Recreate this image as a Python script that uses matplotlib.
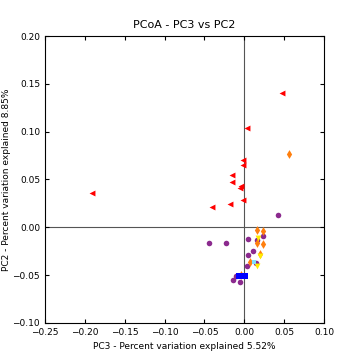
import matplotlib
matplotlib.use("Agg")
import matplotlib.pyplot as plt

# PC3 (x) / PC2 (y) coordinates per group
red_x = [0.0477, 0.0038, -0.001, -0.001, -0.016, -0.016, -0.006, -0.004, -0.001, -0.018, -0.041, -0.191]
red_y = [0.140, 0.1034, 0.070, 0.065, 0.055, 0.047, 0.041, 0.043, 0.029, 0.024, 0.021, 0.036]

orange_x = [0.056, 0.016, 0.023, 0.016, 0.023, 0.020, 0.0075, -0.004]
orange_y = [0.077, -0.003, -0.004, -0.016, -0.018, -0.028, -0.036, -0.050]

purple_x = [0.042, -0.044, -0.023, 0.005, 0.024, 0.016, 0.011, 0.005, 0.015, 0.004, -0.011, -0.014, -0.006]
purple_y = [0.013, -0.016, -0.016, -0.012, -0.009, -0.013, -0.025, -0.029, -0.037, -0.041, -0.051, -0.055, -0.057]

yellow_x = [0.017, 0.020, 0.016]
yellow_y = [-0.011, -0.030, -0.041]

cyan_x = [0.0125]
cyan_y = [-0.036]

blue_x = [-0.0065, 0.0015]
blue_y = [-0.051, -0.051]

fig = plt.figure(figsize=(3.6, 3.6), dpi=100)
ax = fig.add_axes([0.125, 0.103, 0.775, 0.797])

ax.axhline(0, color="#555555", lw=0.8, zorder=1)
ax.axvline(0, color="#555555", lw=0.8, zorder=1)

ax.scatter(purple_x, purple_y, marker="o", s=16, color="#8b2a8e", linewidths=0, zorder=2)
ax.scatter(orange_x, orange_y, marker="d", s=20, color="#ff7f0e", linewidths=0, zorder=3)
ax.scatter(yellow_x, yellow_y, marker="v", s=18, color="#ffee00", linewidths=0, zorder=3)
ax.scatter(cyan_x, cyan_y, marker="s", s=12, color="#80e0ff", linewidths=0, zorder=3)
ax.scatter(blue_x, blue_y, marker="s", s=13, color="#0000ff", linewidths=0, zorder=3)
ax.scatter(red_x, red_y, marker="<", s=18, color="#ff0000", linewidths=0, zorder=3)

ax.set_xlim(-0.25, 0.10)
ax.set_ylim(-0.10, 0.20)
ax.set_xticks([-0.25, -0.20, -0.15, -0.10, -0.05, 0.00, 0.05, 0.10])
ax.set_yticks([-0.10, -0.05, 0.00, 0.05, 0.10, 0.15, 0.20])
ax.tick_params(direction="in", top=True, right=True, labelsize=6.5, length=3, width=0.8)
for sp in ax.spines.values():
    sp.set_linewidth(0.8)

ax.set_title("PCoA - PC3 vs PC2", fontsize=8)
ax.set_xlabel("PC3 - Percent variation explained 5.52%", fontsize=6.5)
ax.set_ylabel("PC2 - Percent variation explained 8.85%", fontsize=6.5, labelpad=1)

fig.savefig("out.png", dpi=100)
